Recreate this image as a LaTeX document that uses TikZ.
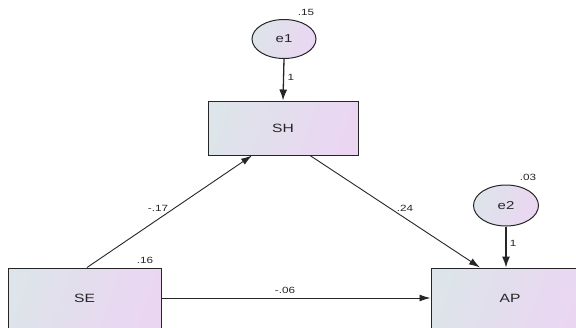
\documentclass[tikz,border=0pt]{standalone}
\usepackage{graphicx}
\usepackage{fontspec}
\setmainfont{Liberation Sans}
\usetikzlibrary{shapes.geometric,arrows.meta}
\newcommand\myxs[1]{\scalebox{1.3}[1]{#1}}
\definecolor{gl}{HTML}{DDE4EA}
\definecolor{gr}{HTML}{EBD6F2}
\definecolor{ink}{HTML}{262626}
\tikzset{
  obs/.style={draw=ink,line width=1pt,rectangle,left color=gl,right color=gr,shading angle=70,
    font=\fontsize{12}{14}\selectfont,text=ink,inner sep=0pt},
  lat/.style={draw=ink,line width=1pt,ellipse,left color=gl,right color=gr,shading angle=70,
    font=\fontsize{11.5}{13}\selectfont,text=ink,inner sep=0pt},
  lbl/.style={font=\fontsize{9}{10}\selectfont,text=ink,inner sep=0pt},
  path1/.style={draw=ink,line width=0.9pt,-{Latex[length=11pt,width=7pt]}},
  path2/.style={draw=ink,line width=1.3pt,-{Latex[length=11pt,width=8pt]}}
}
\begin{document}
\begin{tikzpicture}[x=1pt,y=-1pt]
\useasboundingbox (0,0) rectangle (576,327);
\clip (0,0) rectangle (576,327);
\fill[white] (0,0) rectangle (576,327);
\node[obs,minimum width=150pt,minimum height=54pt] (SH) at (283,128) {\myxs{SH}};
\node[lat,minimum width=64pt,minimum height=39pt] (e1) at (284,39) {\myxs{e1}};
\node[obs,minimum width=153pt,minimum height=60pt] (SE) at (84.5,298) {\myxs{SE}};
\node[obs,minimum width=158pt,minimum height=60pt] (AP) at (510,298) {\myxs{AP}};
\node[lat,minimum width=65pt,minimum height=41pt] (e2) at (506,205.5) {\myxs{e2}};
\draw[path2] (e1.south) -- (SH.north);
\draw[path2] (e2.south) -- (e2.south |- AP.north);
\draw[path1] (SE.north -| 87,0) -- ([xshift=-31pt]SH.south);
\draw[path1] ([xshift=27pt]SH.south) -- ([xshift=-30pt]AP.north);
\draw[path1] (SE.east) -- (AP.west);
\node[lbl] (l15) at (306,12) {\myxs{.15}};
\node[lbl] (l1a) at (291,77) {\myxs{1}};
\node[lbl] (l16) at (145,260) {\myxs{.16}};
\node[lbl] (l03) at (528,177) {\myxs{.03}};
\node[lbl] (l1b) at (513,243) {\myxs{1}};
\node[lbl] (l17) at (158,208) {\myxs{-.17}};
\node[lbl] (l24) at (405,208) {\myxs{.24}};
\node[lbl] (l06) at (285,290) {\myxs{-.06}};
\end{tikzpicture}
\end{document}
